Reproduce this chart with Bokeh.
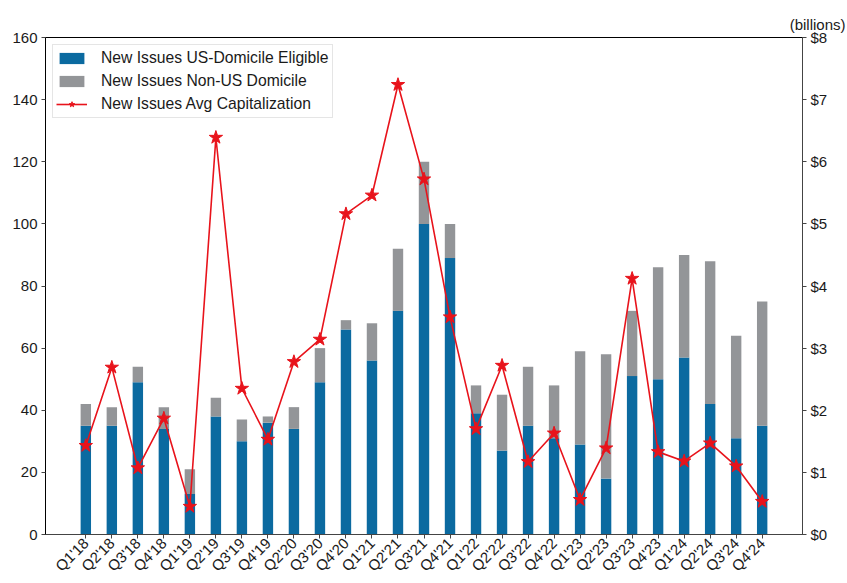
from math import pi
from bokeh.plotting import figure
from bokeh.models import (Range1d, LinearAxis, FixedTicker, PrintfTickFormatter,
                          Legend, LegendItem, Title, ColumnDataSource)
from bokeh.embed import file_html
from bokeh.resources import INLINE

quarters = ["Q1'18", "Q2'18", "Q3'18", "Q4'18", "Q1'19", "Q2'19", "Q3'19", "Q4'19",
            "Q2'20", "Q3'20", "Q4'20", "Q1'21", "Q2'21", "Q3'21", "Q4'21",
            "Q1'22", "Q2'22", "Q3'22", "Q4'22", "Q1'23", "Q2'23", "Q3'23", "Q4'23",
            "Q1'24", "Q2'24", "Q3'24", "Q4'24"]
us_eligible = [35, 35, 49, 34, 13, 38, 30, 36, 34, 49, 66, 56, 72, 100, 89,
               39, 27, 35, 31, 29, 18, 51, 50, 57, 42, 31, 35]
non_us = [7, 6, 5, 7, 8, 6, 7, 2, 7, 11, 3, 12, 20, 20, 11,
          9, 18, 19, 17, 30, 40, 21, 36, 33, 46, 33, 40]
avg_cap = [1.43, 2.69, 1.07, 1.87, 0.45, 6.39, 2.35, 1.53, 2.78, 3.14, 5.16, 5.46, 7.24,
           5.72, 3.50, 1.70, 2.72, 1.17, 1.63, 0.56, 1.39, 4.12, 1.33, 1.18, 1.47, 1.10, 0.53]
left_ticks = [0, 20, 40, 60, 80, 100, 120, 140, 160]
right_ticks = [0, 1, 2, 3, 4, 5, 6, 7, 8]

BLUE = "#0b6aa0"
GRAY = "#939598"
RED = "#e8131b"
FONT = "Liberation Sans"

xs = list(range(len(quarters)))
total = [a + b for a, b in zip(us_eligible, non_us)]
src = ColumnDataSource(dict(x=xs, us=us_eligible, tot=total, cap=avg_cap))

p = figure(width=847, height=583, output_backend="svg", toolbar_location=None,
           x_range=Range1d(-1.55, len(quarters) - 1 + 1.55), y_range=Range1d(0, 160),
           min_border_left=45, min_border_right=45, min_border_top=37, min_border_bottom=46)
p.extra_y_ranges = {"cap": Range1d(0, 8)}
p.grid.visible = False
p.outline_line_color = "black"
p.outline_line_width = 1

b1 = p.vbar(x="x", top="us", bottom=0, width=0.4, source=src, fill_color=BLUE, line_color=None)
b2 = p.vbar(x="x", top="tot", bottom="us", width=0.4, source=src, fill_color=GRAY, line_color=None)
ln = p.line(x="x", y="cap", source=src, y_range_name="cap", line_color=RED, line_width=1.6)
st = p.scatter(x="x", y="cap", source=src, y_range_name="cap", marker="star", size=14,
               fill_color=RED, line_color=RED)

raxis = LinearAxis(y_range_name="cap")
p.add_layout(raxis, "right")

p.xaxis.ticker = FixedTicker(ticks=xs)
p.xaxis.major_label_overrides = {i: q for i, q in enumerate(quarters)}
p.xaxis.major_label_orientation = pi / 4
p.yaxis[0].ticker = FixedTicker(ticks=left_ticks)
raxis.ticker = FixedTicker(ticks=right_ticks)
raxis.formatter = PrintfTickFormatter(format="$%d")

for ax in [p.xaxis[0], p.yaxis[0], raxis]:
    ax.major_label_text_font = FONT
    ax.major_label_text_font_size = "15px"
    ax.major_label_text_color = "#1a1a1a"
    ax.major_tick_in = 0
    ax.major_tick_out = 4
    ax.minor_tick_line_color = None
    ax.major_label_standoff = 4
    ax.axis_line_color = "#444444"
    ax.major_tick_line_color = "#444444"
p.yaxis[0].axis_line_color = "black"
p.xaxis[0].major_label_standoff = 2

legend = Legend(items=[
    LegendItem(label="New Issues US-Domicile Eligible", renderers=[b1]),
    LegendItem(label="New Issues Non-US Domicile", renderers=[b2]),
    LegendItem(label="New Issues Avg Capitalization", renderers=[ln, st]),
], location="top_left")
legend.label_text_font = FONT
legend.label_text_font_size = "15.7px"
legend.label_text_color = "#1a1a1a"
legend.glyph_width = 31
legend.glyph_height = 14
legend.label_height = 20
legend.label_standoff = 14
legend.spacing = 3
legend.padding = 3
legend.margin = 7
legend.border_line_color = "#cccccc"
legend.background_fill_alpha = 0.85
p.add_layout(legend)

p.add_layout(Title(text="(billions)", align="right", offset=-43, standoff=9,
                   text_font=FONT, text_font_size="15px", text_font_style="normal",
                   text_color="#1a1a1a"), "above")

open("out.html", "w").write(file_html(p, INLINE))
